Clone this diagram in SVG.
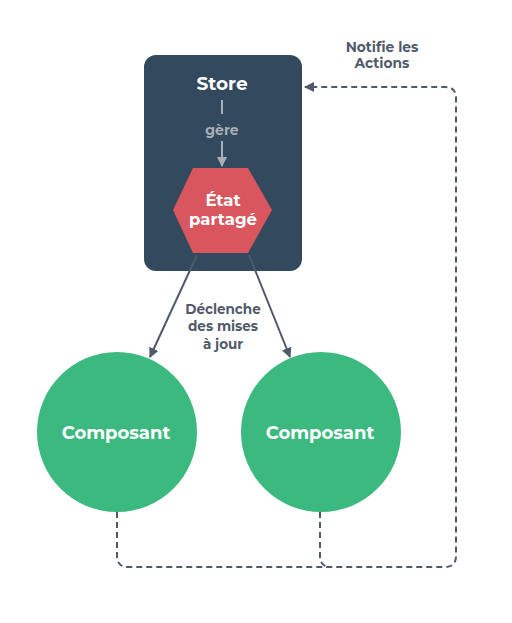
<svg xmlns="http://www.w3.org/2000/svg" width="512" height="623" viewBox="0 0 512 623">
<style>
.t{font-family:"Montserrat","Open Sans","Liberation Sans",sans-serif;font-weight:bold;text-anchor:middle}
.w{fill:#ffffff}
.g{fill:#505a6b}
.dash{fill:none;stroke:#505a6b;stroke-width:2;stroke-dasharray:6,4}
.arr{stroke:#505a6b;stroke-width:2;fill:none}
</style>
<defs>
<marker id="ah" viewBox="0 0 10 10" refX="9" refY="5" markerWidth="5" markerHeight="5" orient="auto"><path d="M0,0L10,5L0,10z" fill="#505a6b"/></marker>
<marker id="ahl" viewBox="0 0 10 10" refX="9" refY="5" markerWidth="5" markerHeight="5" orient="auto"><path d="M0,0L10,5L0,10z" fill="#a7afb8"/></marker>
</defs>
<rect width="512" height="623" fill="#ffffff"/>
<g id="store">
<rect x="144" y="55" width="158" height="216" rx="12" fill="#33495d"/>
<text class="t w" x="222" y="90" font-size="18.5">Store</text>
</g>
<g id="etat">
<polygon points="193,168 248,168 272,210 248,253 193,253 173,210" fill="#d9565e"/>
<text class="t w" x="223" y="206" font-size="16.5">État</text>
<text class="t w" x="223" y="225" font-size="16.5">partagé</text>
</g>
<g id="composant1">
<circle cx="117" cy="432" r="80" fill="#3bb97f"/>
<text class="t w" x="116" y="439" font-size="18">Composant</text>
</g>
<g id="composant2">
<circle cx="321" cy="432" r="80" fill="#3bb97f"/>
<text class="t w" x="320" y="439" font-size="18">Composant</text>
</g>
<g id="connectors">
<line x1="222" y1="100" x2="222" y2="114" stroke="#a7afb8" stroke-width="2"/>
<text class="t" x="222" y="135" font-size="14" fill="#a7afb8">gère</text>
<line x1="222" y1="141" x2="222" y2="166" stroke="#a7afb8" stroke-width="2" marker-end="url(#ahl)"/>
<line class="arr" x1="197" y1="255" x2="150" y2="357" marker-end="url(#ah)"/>
<line class="arr" x1="249" y1="255" x2="290" y2="357" marker-end="url(#ah)"/>
<text class="t g" x="223" y="314" font-size="13.5">Déclenche</text>
<text class="t g" x="223" y="331" font-size="13.5">des mises</text>
<text class="t g" x="223" y="349" font-size="13.5">à jour</text>
<path class="dash" d="M117,512 V556 Q117,567 128,567 H445 Q456,567 456,556 V98 Q456,87 445,87 H305" marker-end="url(#ah)"/>
<path class="dash" d="M320,512 V556 Q320,567 331,567"/>
<text class="t g" x="382" y="52" font-size="13.8">Notifie les</text>
<text class="t g" x="382" y="68" font-size="13.8">Actions</text>
</g>
</svg>
